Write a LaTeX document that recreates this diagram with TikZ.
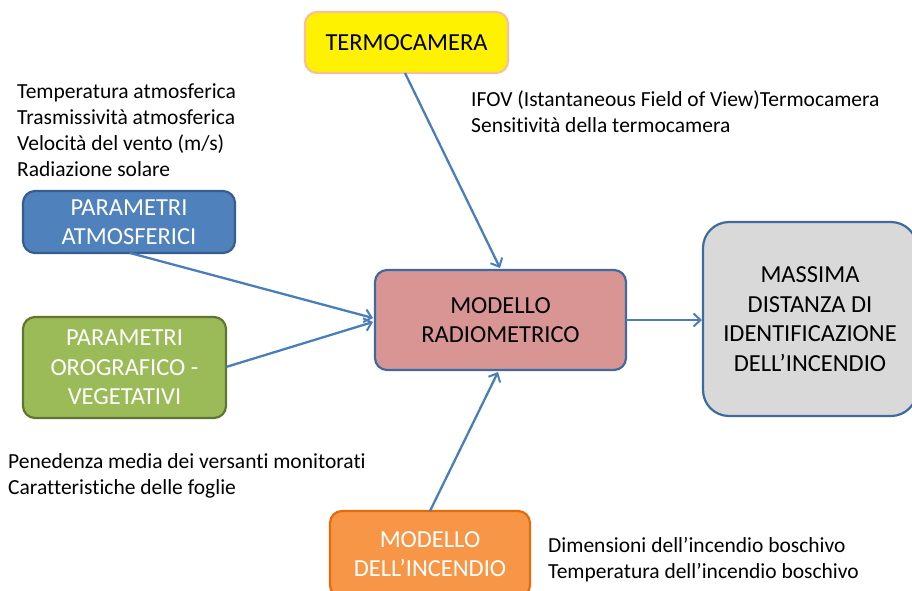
\documentclass[tikz,border=0pt]{standalone}
\usepackage{fontspec}
\setmainfont{Carlito}[Ligatures=NoCommon]
\usetikzlibrary{arrows.meta}
\definecolor{arrblue}{HTML}{4A7EBB}
\definecolor{atmfill}{HTML}{4F81BD}
\definecolor{atmdraw}{HTML}{385D8A}
\definecolor{orofill}{HTML}{9BBB59}
\definecolor{orodraw}{HTML}{5F7530}
\definecolor{radfill}{HTML}{D99594}
\definecolor{raddraw}{HTML}{3E6A9E}
\definecolor{masfill}{HTML}{D9D9D9}
\definecolor{masdraw}{HTML}{3E6A9E}
\definecolor{incfill}{HTML}{F79646}
\definecolor{incdraw}{HTML}{E46C0A}
\definecolor{camdraw}{HTML}{F9BE9A}
\tikzset{
  box/.style={rectangle, rounded corners=12pt, line width=2.2pt, align=center, inner sep=0pt,
    font=\fontsize{24.5}{29.5}\selectfont},
  info/.style={anchor=base west, inner sep=0pt, font=\fontsize{21.5}{26}\selectfont},
  link/.style={draw=arrblue, line width=2.3pt, -{Straight Barb[length=7pt,width=13pt,line width=2pt]}}
}
\newcommand{\infolines}[1]{\begin{tabular}[t]{@{}l@{}}#1\end{tabular}}
\begin{document}
\begin{tikzpicture}[x=1pt,y=-1pt]
\useasboundingbox (0,0) rectangle (912,590);
\begin{scope}
\clip (0,0) rectangle (912,590);
\node[box, fill=yellow, draw=camdraw, minimum width=203pt, minimum height=61pt] (cam) at (406.5,42.5) {TERMOCAMERA};
\node[box, fill=atmfill, draw=atmdraw, text=white, minimum width=212pt, minimum height=62pt] (atm) at (129,222) {PARAMETRI\\ATMOSFERICI};
\node[box, fill=orofill, draw=orodraw, text=white, minimum width=203pt, minimum height=101pt] (oro) at (124.5,367.5) {PARAMETRI\\OROGRAFICO -\\VEGETATIVI};
\node[box, fill=radfill, draw=raddraw, minimum width=251pt, minimum height=100pt] (rad) at (500.5,320) {MODELLO\\RADIOMETRICO};
\node[box, rounded corners=26pt, fill=masfill, draw=masdraw, minimum width=214pt, minimum height=194pt] (mas) at (810,319) {MASSIMA\\DISTANZA DI\\IDENTIFICAZIONE\\DELL’INCENDIO};
\node[box, fill=incfill, draw=incdraw, text=white, minimum width=200pt, minimum height=86pt] (inc) at (430,554) {MODELLO\\DELL’INCENDIO};
\end{scope}

\node[info] (atmtxt) at (17,98.5) {\infolines{Temperatura atmosferica\\Trasmissività atmosferica\\Velocità del vento (m/s)\\Radiazione solare}};
\node[info] (camtxt) at (471,106) {\infolines{IFOV (Istantaneous Field of View)Termocamera\\Sensitività della termocamera}};
\node[info] (orotxt) at (8,468) {\infolines{Penedenza media dei versanti monitorati\\Caratteristiche delle foglie}};
\node[info] (inctxt) at (548,552) {\infolines{Dimensioni dell’incendio boschivo\\Temperatura dell’incendio boschivo}};

\coordinate (camout) at (405,73);
\coordinate (radtop) at (500,268);
\coordinate (atmout) at (130,253);
\coordinate (radl1) at (373,318);
\coordinate (oroout) at (226,367);
\coordinate (radl2) at (373,322);
\coordinate (incout) at (430,511);
\coordinate (radbot) at (498,372);
\coordinate (radout) at (626,320);
\coordinate (masin) at (702,320);
\draw[link] (camout) -- (radtop);
\draw[link] (atmout) -- (radl1);
\draw[link] (oroout) -- (radl2);
\draw[link] (incout) -- (radbot);
\draw[link] (radout) -- (masin);
\end{tikzpicture}
\end{document}
